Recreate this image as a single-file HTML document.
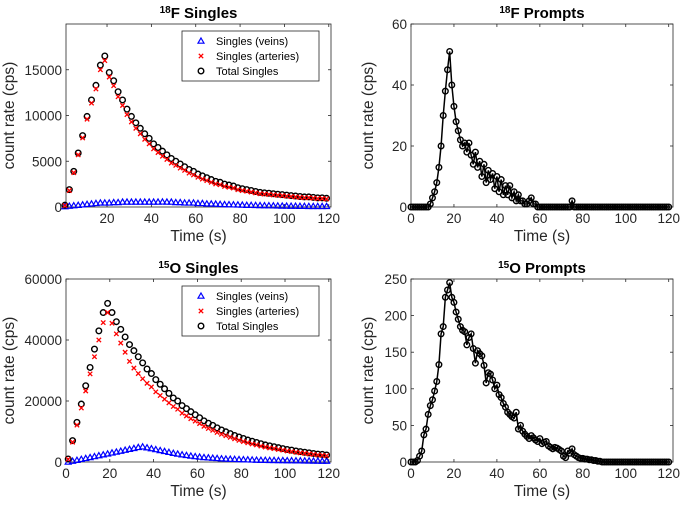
<!DOCTYPE html>
<html><head><meta charset="utf-8">
<style>
body{margin:0;background:#fff;width:685px;height:506px;overflow:hidden;font-family:"Liberation Sans",Arial,sans-serif}
svg text{font-family:"Liberation Sans",Arial,sans-serif}
</style></head>
<body>
<svg id="chart" width="685" height="506" viewBox="0 0 685 506" xmlns="http://www.w3.org/2000/svg"></svg>
<script>
// ---- data ----
const tS = [1,3,5,7,9,11,13,15,17,19,21,23,25,27,29,31,33,35,37,39,41,43,45,47,49,51,53,55,57,59,61,63,65,67,69,71,73,75,77,79,81,83,85,87,89,91,93,95,97,99,101,103,105,107,109,111,113,115,117,119];
const fTotal = [200,1900,3900,5900,7800,9900,11700,13300,15500,16500,14700,13800,12600,11700,10700,9900,9200,8600,8000,7500,6900,6500,6100,5700,5300,5000,4700,4400,4100,3900,3600,3400,3200,3000,2800,2700,2500,2400,2300,2100,2000,1900,1800,1700,1600,1550,1500,1450,1400,1350,1300,1250,1200,1150,1100,1100,1050,1000,1000,950];
const fArteries = [150,1800,3750,5700,7550,9600,11350,12900,15000,16000,14200,13250,12050,11100,10100,9300,8600,8000,7400,6900,6350,5950,5550,5200,4800,4550,4250,4000,3700,3500,3250,3050,2880,2700,2520,2430,2250,2160,2070,1890,1800,1720,1630,1540,1450,1410,1370,1320,1280,1240,1190,1150,1100,1060,1010,1020,970,920,930,880];
const fVeins = [50,100,150,200,250,300,350,400,450,450,450,500,500,550,550,550,550,550,550,550,550,550,560,550,550,500,500,450,450,450,400,400,350,350,330,300,280,270,250,240,220,200,190,180,170,160,150,140,130,120,110,100,100,90,90,80,80,80,70,70];
const oTotal = [1000,7000,13000,19000,25000,31000,37000,43000,49000,52000,49000,46000,43500,41000,38500,36500,34500,32500,30500,29000,27000,25500,24000,22500,21000,20000,18500,17500,16500,15500,14500,13500,12700,12000,11200,10500,9900,9300,8700,8200,7700,7200,6800,6400,6000,5600,5300,5000,4700,4400,4100,3900,3600,3400,3200,3000,2800,2600,2500,2300];
const oArteries = [900,6500,12100,17700,23300,28900,34500,40000,45700,49000,45500,42000,39000,36000,33000,30800,29000,27300,25800,24600,23000,21800,20600,19400,18200,17300,16000,15100,14200,13400,12600,11700,11000,10400,9700,9100,8600,8100,7600,7100,6700,6300,5900,5600,5200,4900,4600,4400,4100,3900,3600,3400,3200,3000,2850,2650,2500,2300,2200,2050];
const oVeins = [0,300,600,900,1200,1500,1800,2100,2400,2700,3000,3300,3600,3900,4200,4500,4800,5000,4700,4400,4100,3800,3500,3200,2900,2650,2400,2200,2000,1800,1650,1500,1400,1300,1200,1100,1000,950,900,850,800,750,700,650,600,580,560,540,520,500,480,460,440,420,400,380,360,340,320,300];
const tP = Array.from({length:121},(_, i)=>i);
const fPrompts = [0,0,0,0,0,0,0,0,0,1,3,5,8,13,20,30,38,45,51,40,33,28,25,22,20,21,18,21,17,14,18,13,15,10,14,8,12,9,11,6,10,5,9,4,7,4,7,3,5,2,4,2,2,1,1,2,3,1,1,0,0,0,0,0,0,0,0,0,0,0,0,0,0,0,0,2,0,0,0,0,0,0,0,0,0,0,0,0,0,0,0,0,0,0,0,0,0,0,0,0,0,0,0,0,0,0,0,0,0,0,0,0,0,0,0,0,0,0,0,0,0];
const oPrompts = [0,0,0,2,8,15,37,45,65,77,85,97,110,133,175,185,225,235,245,225,218,205,195,185,180,178,160,170,175,155,135,152,148,145,132,108,122,120,112,100,105,92,88,80,75,68,65,62,60,68,45,50,42,38,35,32,36,33,30,28,32,25,27,28,22,20,18,20,19,17,15,8,6,15,12,18,10,8,6,5,5,4,4,3,3,2,2,1,1,0,0,0,0,0,0,0,0,0,0,0,0,0,0,0,0,0,0,0,0,0,0,0,0,0,0,0,0,0,0,0,0];
const xTicksF = [20,40,60,80,100,120];
const xTicks = [0,20,40,60,80,100,120];
const yTicksFS = [0,5000,10000,15000];
const yTicksFP = [0,20,40,60];
const yTicksOS = [0,20000,40000,60000];
const yTicksOP = [0,50,100,150,200,250];
const legendLabels = ["Singles (veins)","Singles (arteries)","Total Singles"];

const NS="http://www.w3.org/2000/svg";
const svg=document.getElementById('chart');
function mk(tag,attrs,parent){const e=document.createElementNS(NS,tag);for(const k in attrs)e.setAttribute(k,attrs[k]);(parent||svg).appendChild(e);return e;}

function panel(p){
  const g=mk('g',{});
  
  
  const X=v=>p.x0+(v-p.xmin)/(p.xmax-p.xmin)*(p.x1-p.x0);
  const Y=v=>p.y1-(v-p.ymin)/(p.ymax-p.ymin)*(p.y1-p.y0);
  const frame=mk('rect',{x:p.x0,y:p.y0,width:p.x1-p.x0,height:p.y1-p.y0,fill:'#fff',stroke:'#262626','stroke-width':0.8},g);
  
  
  p.xt.forEach(v=>{
    mk('line',{x1:X(v),x2:X(v),y1:p.y1,y2:p.y1-3,stroke:'#262626','stroke-width':0.8},g);
    mk('line',{x1:X(v),x2:X(v),y1:p.y0,y2:p.y0+3,stroke:'#262626','stroke-width':0.8},g);
    const t=mk('text',{x:X(v),y:p.y1+16,'text-anchor':'middle','font-size':13.5,fill:'#262626'},g);
    t.textContent=v;
    
    
  });
  p.yt.forEach(v=>{
    mk('line',{x1:p.x0,x2:p.x0+3,y1:Y(v),y2:Y(v),stroke:'#262626','stroke-width':0.8},g);
    mk('line',{x1:p.x1,x2:p.x1-3,y1:Y(v),y2:Y(v),stroke:'#262626','stroke-width':0.8},g);
    const t=mk('text',{x:p.x0-4,y:Y(v)+5,'text-anchor':'end','font-size':13.5,fill:'#262626'},g);
    t.textContent=v;
    
    
  });
  const xl=mk('text',{x:(p.x0+p.x1)/2,y:p.y1+34,'text-anchor':'middle','font-size':15.5,fill:'#262626'},g);
  xl.textContent='Time (s)';
  
  
  const yl=mk('text',{x:0,y:0,'text-anchor':'middle','font-size':15.5,fill:'#262626',transform:`translate(${p.ylx},${(p.y0+p.y1)/2}) rotate(-90)`},g);
  yl.textContent='count rate (cps)';
  
  
  const ti=mk('text',{x:(p.x0+p.x1)/2,y:p.y0-6,'text-anchor':'middle','font-size':15,'font-weight':'bold',fill:'#000'},g);
  ti.innerHTML=`<tspan font-size="10" dy="-5">${p.iso}</tspan><tspan dy="5">${p.title}</tspan>`;
  
  
  return {g,X,Y};
}
function tri(g,x,y,c){const e=mk('path',{d:`M${x},${y-3}L${x+3},${y+2.2}L${x-3},${y+2.2}Z`,fill:'none',stroke:c,'stroke-width':1.2},g);return e;}
function cross(g,x,y,c){const e=mk('path',{d:`M${x-2.2},${y-2.2}L${x+2.2},${y+2.2}M${x-2.2},${y+2.2}L${x+2.2},${y-2.2}`,stroke:c,'stroke-width':1.3},g);return e;}
function circ(g,x,y){return mk('circle',{cx:x,cy:y,r:2.8,fill:'none',stroke:'#000','stroke-width':1.4},g);}

function singles(p,veins,art,tot){
  const {g,X,Y}=panel(p);
  tS.forEach((t,i)=>{const e=tri(g,X(t),Y(veins[i]),'#0000ff');});
  tS.forEach((t,i)=>{const e=circ(g,X(t),Y(tot[i]));});
  tS.forEach((t,i)=>{const e=cross(g,X(t),Y(art[i]),'#ff0000');});
  const lg=mk('g',{},g);
  
  
  const lx=p.x0+116, ly=p.y0+7;
  mk('rect',{x:lx,y:ly,width:137,height:50,fill:'#fff',stroke:'#262626','stroke-width':0.8},lg);
  legendLabels.forEach((s,i)=>{
    const yy=ly+10+i*15;
    let m;
    if(i===0)m=tri(lg,lx+19,yy,'#0000ff');else if(i===1)m=cross(lg,lx+19,yy,'#ff0000');else m=circ(lg,lx+19,yy);
    const t=mk('text',{x:lx+34,y:yy+4,'font-size':11,fill:'#000'},lg);
    t.textContent=s;
    
    
  });
}
function prompts(p,vals){
  const {g,X,Y}=panel(p);
  const l=mk('polyline',{points:tP.map((t,i)=>`${X(t)},${Y(vals[i])}`).join(' '),fill:'none',stroke:'#000','stroke-width':1.5},g);
  
  
  tP.forEach((t,i)=>{const e=circ(g,X(t),Y(vals[i]));});
}
singles({name:'f18-singles-chart',x0:66,x1:331,y0:24,y1:207,xmin:1.5,xmax:121,ymin:0,ymax:20000,xt:xTicksF,yt:yTicksFS,ylx:14,iso:'18',title:'F Singles'},fVeins,fArteries,fTotal);
prompts({name:'f18-prompts-chart',x0:411,x1:673,y0:24,y1:207,xmin:0,xmax:122,ymin:0,ymax:60,xt:xTicks,yt:yTicksFP,ylx:373,iso:'18',title:'F Prompts'},fPrompts);
singles({name:'o15-singles-chart',x0:66,x1:331,y0:279,y1:462,xmin:0,xmax:121,ymin:0,ymax:60000,xt:xTicks,yt:yTicksOS,ylx:14,iso:'15',title:'O Singles'},oVeins,oArteries,oTotal);
prompts({name:'o15-prompts-chart',x0:411,x1:673,y0:279,y1:462,xmin:0,xmax:122,ymin:0,ymax:250,xt:xTicks,yt:yTicksOP,ylx:373,iso:'15',title:'O Prompts'},oPrompts);
</script>
</body></html>
